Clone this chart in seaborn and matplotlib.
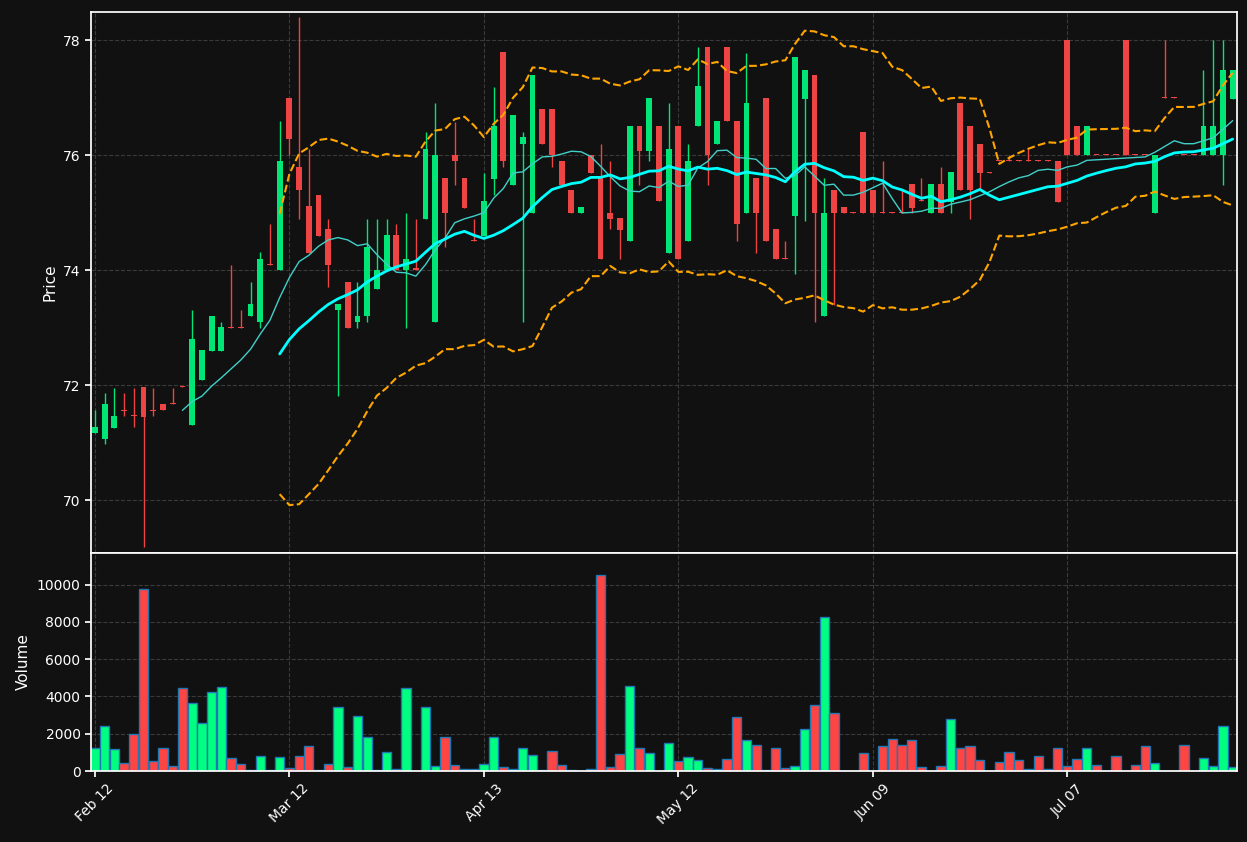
import numpy as np
import pandas as pd
import seaborn as sns
import matplotlib
matplotlib.use("Agg")
import matplotlib.pyplot as plt

# OHLC, one row per trading bar
opens = [71.16, 71.06, 71.26, 71.57, 71.48, 71.97, 71.57, 71.67, 71.68, 71.98,
         71.30, 72.09, 72.60, 72.60, 73.01, 73.01, 73.20, 73.10, 74.10, 74.01,
         77.00, 75.80, 75.11, 75.30, 74.71, 73.30, 73.80, 73.10, 73.20, 73.68,
         74.01, 74.61, 74.01, 74.02, 74.89, 73.10, 75.61, 76.01, 75.61, 74.51,
         74.59, 75.59, 77.80, 75.49, 76.19, 74.99, 76.80, 76.80, 75.90, 75.40,
         74.99, 76.01, 75.60, 75.00, 74.90, 74.50, 76.51, 76.08, 76.51, 74.30,
         76.51, 74.50, 76.50, 77.89, 76.19, 77.89, 76.60, 74.99, 75.61, 77.00,
         74.71, 74.21, 74.95, 76.98, 77.40, 73.20, 75.40, 75.10, 75.01, 76.41,
         75.40, 75.01, 75.01, 75.01, 75.50, 75.21, 74.99, 75.50, 75.19, 76.90,
         76.51, 76.20, 75.70, 75.91, 75.91, 75.91, 75.91, 75.91, 75.91, 75.90,
         78.00, 76.51, 76.00, 76.01, 76.01, 76.01, 78.00, 76.01, 76.01, 74.99,
         77.01, 77.01, 76.01, 76.01, 76.00, 76.00, 76.00, 76.98]
highs = [71.56, 71.86, 71.95, 71.86, 71.95, 71.97, 71.95, 71.67, 71.95, 71.98,
         73.30, 72.61, 73.21, 73.10, 74.09, 73.30, 73.80, 74.31, 74.81, 76.60,
         77.00, 78.40, 76.10, 75.30, 74.89, 73.41, 73.80, 73.80, 74.89, 74.89,
         74.89, 74.81, 75.00, 74.89, 76.40, 76.90, 75.61, 76.58, 75.61, 74.89,
         75.69, 77.19, 77.80, 76.70, 76.40, 77.40, 76.80, 76.80, 75.90, 75.40,
         75.10, 76.01, 76.19, 75.90, 74.90, 76.51, 76.51, 77.00, 76.51, 76.90,
         76.51, 76.19, 77.89, 77.89, 76.60, 77.89, 76.60, 77.78, 75.61, 77.00,
         74.71, 74.50, 77.70, 77.49, 77.40, 75.60, 75.40, 75.10, 75.01, 76.41,
         75.40, 75.90, 75.01, 75.40, 75.50, 75.60, 75.50, 75.79, 75.70, 76.90,
         76.51, 76.20, 75.70, 75.91, 76.00, 75.91, 76.10, 75.91, 75.91, 75.90,
         78.00, 76.51, 76.51, 76.01, 76.01, 76.01, 78.00, 76.01, 76.01, 76.00,
         78.00, 77.01, 76.01, 76.01, 77.49, 78.00, 78.00, 77.49]
lows = [71.16, 70.97, 71.26, 71.47, 71.27, 69.18, 71.47, 71.56, 71.67, 71.97,
        71.30, 72.09, 72.60, 72.60, 73.00, 73.00, 73.20, 73.00, 74.09, 74.01,
        76.00, 74.89, 74.30, 74.59, 73.70, 71.81, 73.00, 73.00, 73.10, 73.68,
        74.01, 74.01, 73.00, 74.01, 74.89, 73.10, 74.41, 75.49, 75.09, 74.50,
        74.59, 75.31, 75.79, 75.49, 73.10, 74.99, 76.19, 75.79, 75.49, 74.99,
        74.99, 75.69, 74.20, 74.71, 74.20, 74.50, 75.49, 75.90, 75.20, 74.30,
        74.20, 74.50, 76.50, 75.49, 76.19, 76.59, 74.50, 74.99, 74.30, 74.50,
        74.20, 74.20, 73.93, 74.85, 73.10, 73.20, 73.40, 74.99, 75.00, 74.99,
        74.99, 75.00, 75.00, 75.00, 74.99, 75.20, 74.99, 74.99, 74.99, 75.39,
        74.89, 75.39, 75.69, 75.90, 75.90, 75.90, 75.90, 75.90, 75.90, 75.19,
        76.00, 76.00, 76.00, 76.00, 76.00, 76.00, 76.00, 76.00, 76.00, 74.99,
        77.00, 77.00, 76.00, 76.00, 76.00, 76.00, 75.49, 76.98]
closes = [71.27, 71.67, 71.47, 71.55, 71.46, 71.45, 71.55, 71.56, 71.67, 71.97,
          72.80, 72.61, 73.21, 73.01, 73.00, 73.00, 73.41, 74.20, 74.09, 75.90,
          76.29, 75.39, 74.30, 74.59, 74.09, 73.41, 73.00, 73.21, 74.41, 74.01,
          74.61, 74.01, 74.20, 74.01, 76.10, 76.01, 74.99, 75.90, 75.09, 74.50,
          75.20, 76.51, 75.90, 76.70, 76.31, 77.40, 76.19, 76.00, 75.49, 74.99,
          75.10, 75.69, 74.20, 74.89, 74.70, 76.51, 76.08, 77.00, 75.20, 76.10,
          74.20, 75.90, 77.20, 76.00, 76.60, 76.59, 74.80, 76.90, 74.99, 74.50,
          74.20, 74.20, 77.70, 77.49, 74.99, 75.00, 74.99, 74.99, 75.00, 74.99,
          74.99, 75.00, 75.00, 75.00, 75.09, 75.20, 75.50, 74.99, 75.70, 75.39,
          75.39, 75.69, 75.69, 75.90, 75.90, 75.90, 75.90, 75.90, 75.90, 75.19,
          76.00, 76.00, 76.51, 76.00, 76.00, 76.00, 76.00, 76.00, 76.00, 76.00,
          77.00, 77.00, 76.00, 76.00, 76.51, 76.51, 77.49, 77.49]
volumes = [1250, 2390, 1160, 410, 2010, 9750, 520, 1210, 250, 4470,
           3670, 2550, 4250, 4520, 680, 360, 30, 780, 30, 730,
           140, 780, 1320, 30, 360, 3450, 200, 2970, 1850, 30,
           1000, 90, 4470, 0, 3450, 250, 1850, 300, 90, 90,
           360, 1800, 200, 90, 1260, 840, 30, 1050, 300, 30,
           0, 90, 10500, 200, 890, 4570, 1210, 940, 0, 1530,
           520, 730, 570, 140, 90, 620, 2920, 1640, 1420, 30,
           1260, 140, 250, 2280, 3560, 8260, 3130, 0, 0, 940,
           0, 1320, 1740, 1370, 1690, 200, 0, 250, 2810, 1260,
           1320, 570, 0, 460, 1000, 570, 90, 780, 90, 1210,
           250, 620, 1210, 300, 0, 780, 0, 300, 1320, 410,
           0, 0, 1370, 0, 680, 250, 2440, 200]
tick_pos = [0, 20, 40, 60, 80, 100]
tick_labels = ["Feb 12", "Mar 12", "Apr 13", "May 12", "Jun 09", "Jul 07"]

BG = "#111111"
UP, DOWN = "#00e676", "#ef4444"
VUP, VDOWN = "#00ff80", "#ff4444"

sns.set_theme(style="dark")
plt.rcParams.update({
    "figure.facecolor": BG, "axes.facecolor": BG, "axes.edgecolor": "white",
    "text.color": "white", "axes.labelcolor": "white",
    "xtick.color": "white", "ytick.color": "white",
})
plt.rcParams["font.family"] = ["DejaVu Sans"]

df = pd.DataFrame({"open": opens, "high": highs, "low": lows,
                   "close": closes, "volume": volumes})
df["idx"] = np.arange(len(df))
df["sma10"] = df["close"].rolling(10).mean()
df["sma20"] = df["close"].rolling(20).mean()
std20 = df["close"].rolling(20).std()
df["upper"] = df["sma20"] + 2 * std20
df["lower"] = df["sma20"] - 2 * std20
up = df["close"] >= df["open"]

fig = plt.figure(figsize=(12.47, 8.42), dpi=100)
ax = fig.add_axes([0.073, 0.3432, 0.919, 0.6425])
axv = fig.add_axes([0.073, 0.0843, 0.919, 0.259], sharex=ax)

# candles
ax.vlines(df["idx"], df["low"], df["high"],
          colors=np.where(up, UP, DOWN), linewidth=1, zorder=2)
body = (df["close"] - df["open"]).abs().clip(lower=0.02)
ax.bar(df["idx"], body, bottom=df[["open", "close"]].min(axis=1), width=0.6,
       color=np.where(up, UP, DOWN), linewidth=0, zorder=3)

sns.lineplot(data=df, x="idx", y="sma10", ax=ax, color="#40d0c8", linewidth=1, zorder=4)
sns.lineplot(data=df, x="idx", y="sma20", ax=ax, color="#00ffff", linewidth=2, zorder=5)
for col in ["upper", "lower"]:
    sns.lineplot(data=df, x="idx", y=col, ax=ax, color="orange",
                 linewidth=1.5, linestyle="--", zorder=4)

ax.set_ylim(69.08, 78.49)
ax.set_xlim(-0.4, 117.45)
ax.set_ylabel("Price", fontsize=11)
ax.set_xlabel("")
ax.tick_params(axis="x", labelbottom=False, length=0)

# volume
axv.bar(df["idx"], df["volume"], width=0.95,
        color=np.where(up, VUP, VDOWN), edgecolor="#1f77b4", linewidth=1)
axv.set_ylim(0, 11700)
axv.set_yticks([0, 2000, 4000, 6000, 8000, 10000])
axv.set_ylabel("Volume", fontsize=11)
axv.set_xticks(tick_pos)
axv.set_xticklabels(tick_labels, rotation=45)

for a in (ax, axv):
    a.grid(True, color="#3a3a3a", linestyle="--", linewidth=0.8)
    a.set_axisbelow(True)
    for s in a.spines.values():
        s.set_color("white")
    a.tick_params(axis="both", colors="white", labelsize=10)
axv.tick_params(axis="x", length=4, bottom=True)
axv.tick_params(axis="y", length=4, left=True)
ax.tick_params(axis="y", length=4, left=True)

fig.savefig("out.png", dpi=100, facecolor=BG)
